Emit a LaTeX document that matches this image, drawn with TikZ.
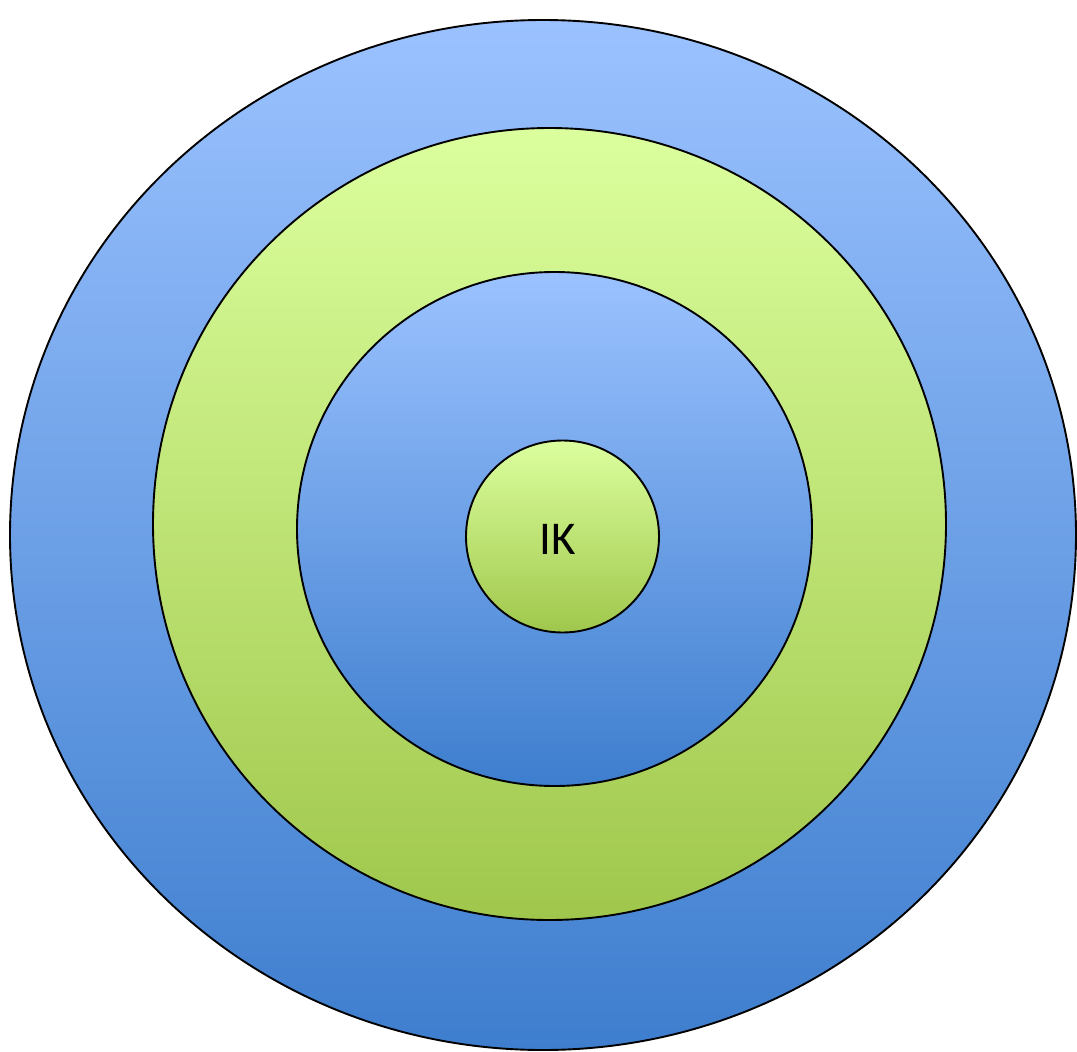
\documentclass[tikz,border=0pt]{standalone}
\usepackage{fontspec}
\setsansfont{Carlito}
\usetikzlibrary{shapes.geometric}
\definecolor{bluetop}{HTML}{9BC2FF}
\definecolor{bluebot}{HTML}{3E7ECE}
\definecolor{greentop}{HTML}{DCFF9E}
\definecolor{greenbot}{HTML}{A0C74C}
\tikzset{
  ring/.style={ellipse, draw=black, line width=1.9pt, inner sep=0pt, outer sep=0pt},
  bluering/.style={ring, top color=bluetop, bottom color=bluebot},
  greenring/.style={ring, top color=greentop, bottom color=greenbot},
  lbl/.style={font=\sffamily\fontsize{47}{47}\selectfont, text=black, inner sep=0pt}
}
\begin{document}
\begin{tikzpicture}[x=1pt,y=-1pt]
\useasboundingbox (0,0) rectangle (1077,1052);
\node[bluering, minimum width=1066pt, minimum height=1030pt] (outer) at (543,535) {};
\node[greenring, minimum width=793pt, minimum height=792pt] (second) at (549.5,524) {};
\node[bluering, minimum width=515pt, minimum height=514pt] (third) at (554.5,529) {};
\node[greenring, minimum width=193pt, minimum height=192pt] (core) at (562.5,536.5) {};
\node[lbl] (ik) at (558,539) {IK};
\end{tikzpicture}
\end{document}
